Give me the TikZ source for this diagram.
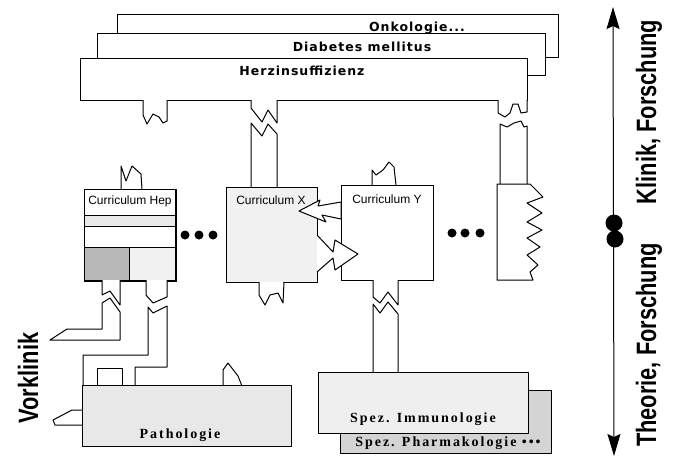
\documentclass[tikz,border=0pt]{standalone}
\usepackage{fontspec}
\usepackage{tikz}
\usetikzlibrary{arrows.meta,positioning}
\setmainfont{Liberation Sans}
\newfontfamily\fachfont[LetterSpace=8]{DejaVu Sans}
\newfontfamily\kursfont[LetterSpace=14]{Liberation Serif}
\newfontfamily\achsfont[FakeStretch=0.78]{Liberation Sans}
\definecolor{PunktGrau}{gray}{0.91}
\definecolor{DunkelGrau}{gray}{0.72}

\begin{document}
\begin{tikzpicture}[x=1pt,y=-1pt,line join=round,
  fach/.style={draw,line width=.8pt,fill=white,anchor=north west,inner sep=0pt},
  fachtext/.style={font=\fachfont\bfseries\fontsize{12.5}{14}\selectfont},
  teil/.style={draw,line width=1pt,fill=white},
  kurs/.style={draw,line width=1pt,anchor=north west,inner sep=0pt},
  kurstext/.style={font=\kursfont\bfseries\fontsize{14}{16}\selectfont},
  curtext/.style={font=\fontsize{12}{14}\selectfont},
  achstext/.style={font=\achsfont\bfseries\fontsize{28}{30}\selectfont,rotate=90},
  punkt/.style={fill=black,draw=none}]
\useasboundingbox (0,0) rectangle (673,461);
% Organsysteme oben
\node[fach,minimum width=441pt,minimum height=43pt] (onko) at (117,14) {};
\node[fachtext] (onkot) at (417,28) {Onkologie...};
\node[fach,minimum width=448pt,minimum height=42pt] (diab) at (97,33) {};
\node[fachtext] (diabt) at (362,47) {Diabetes mellitus};
\node[fach,minimum width=447pt,minimum height=42pt] (herz) at (80,58) {};
\node[fachtext] (herzt) at (302,71) {Herzinsuffizienz};
% Stuecke unter Herzinsuffizienz
\draw[teil] (143,100)--(143,115)--(147,124)--(153,114)--(159,117)--(163,123)--(167,121)--(167,100);
\draw[teil] (251,100)--(251,108)--(262,122)--(268,110)--(277,123)--(277,100);
\draw[teil] (251,187)--(251,123)--(262,136)--(268,124)--(277,134)--(277,187);
\draw[teil] (498,100)--(498,113)--(505,117)--(510,113)--(513,104)--(518,104)--(521,113)--(527,112)--(527,100);
\draw[teil] (500,184)--(500,124)--(507,127)--(514,123)--(521,121)--(524,127)--(527,126)--(527,184);
% Curriculum Hep
\draw[teil] (121,189)--(121,166)--(126,181)--(132,166)--(141,174)--(142,189);
\node[kurs,fill=white,minimum width=91pt,minimum height=91pt] (hep) at (84,189) {};
\fill[PunktGrau] (84,215) rectangle (175,226);
\fill[DunkelGrau] (84,247) rectangle (129,280);
\fill[PunktGrau!60] (129,247) rectangle (175,280);
\draw[line width=1pt] (84,215)--(175,215) (84,226)--(175,226) (84,247)--(175,247) (129,247)--(129,280);
\draw[line width=1pt] (hep.north west) rectangle (hep.south east);
\node[curtext,below=3pt of hep.north] (hept) {Curriculum Hep};
\fill[punkt] (185,235) circle (4.5) (199,235) circle (4.5) (213,235) circle (4.5);
% Curriculum X und Y
\node[kurs,fill=PunktGrau!60,minimum width=91pt,minimum height=95pt] (curx) at (226,187) {};
\node[curtext] (curxt) at (271,200) {Curriculum X};
\draw[teil] (259,282)--(259,295)--(265,305)--(270,295)--(278,293)--(283,303)--(284,282);
\draw[teil] (372,185)--(372,170)--(376,175)--(383,170)--(389,162)--(394,167)--(396,185);
\node[kurs,fill=white,minimum width=92pt,minimum height=95pt] (cury) at (341,185) {};
\node[curtext] (curyt) at (387,199) {Curriculum Y};
\draw[teil] (299,211)--(320,200)--(318,206)--(341,202)--(341,219)--(322,215)--(326,222)--cycle;
\draw[teil] (317,235)--(333,252)--(335,240)--(358,254)--(335,270)--(333,258)--(317,272);
\fill[punkt] (452,233) circle (4.5) (465,233) circle (4.5) (480,233) circle (4.5);
% angerissenes Curriculum rechts
\draw[teil] (497,184)--(530,184)--(543,197)--(527,203)--(542,213)--(527,222)--(542,230)--(527,238)
  --(540,247)--(527,255)--(538,265)--(530,272)--(533,280)--(497,280)--cycle;
% Verbindungen nach unten
\draw[teil] (373,280)--(373,297)--(380,303)--(388,292)--(398,305)--(398,280);
\draw[teil] (373,372)--(373,304)--(380,313)--(388,302)--(398,314)--(398,372);
\draw[teil] (102,280)--(102,295)--(110,291)--(120,305)--(120,280);
\draw[teil] (102,303)--(110,298)--(120,312)--(120,340)--(50,340)--(67,329)--(102,329)--cycle;
\draw[teil] (146,280)--(146,295)--(153,303)--(167,297)--(167,280);
\draw[teil] (148,307)--(153,313)--(167,306)--(167,367)--(135,367)--(135,386)--(83,386)--(83,355)--(148,355)--cycle;
\draw[teil] (97,386)--(97,368)--(122,368)--(122,386);
\draw[teil] (82,410)--(72,410)--(53,420)--(55,425)--(82,425);
\draw[teil] (223,386)--(223,370)--(228,363)--(238,376)--(242,386);
% Vorklinik
\node[kurs,fill=PunktGrau,minimum width=209pt,minimum height=61pt] (patho) at (82,385) {};
\node[kurstext] (pathot) at (180,435) {Pathologie};
\node[kurs,fill=DunkelGrau!60,minimum width=211pt,minimum height=63pt] (pharma) at (340,390) {};
\node[kurstext] (pharmat) at (448,443) {Spez. Pharmakologie \textbullet\textbullet\textbullet};
\node[kurs,fill=PunktGrau!70,minimum width=210pt,minimum height=61pt] (immun) at (318,372) {};
\node[kurstext] (immunt) at (423,419) {Spez. Immunologie};
% Achse rechts
\coordinate (achsoben) at (613,7);
\coordinate (achsunten) at (614,456);
\draw[line width=1pt,{Stealth[length=22pt,width=13pt,inset=3pt]}-{Stealth[length=22pt,width=13pt,inset=3pt]}] (achsunten)--(achsoben);
\fill[punkt] (614,223) circle (8.5) (615,239) circle (8.5);
\node[achstext] (klinik) at (649,112) {Klinik, Forschung};
\node[achstext] (theorie) at (649,345) {Theorie, Forschung};
\node[achstext] (vorklinik) at (28,378) {Vorklinik};
\end{tikzpicture}
\end{document}
